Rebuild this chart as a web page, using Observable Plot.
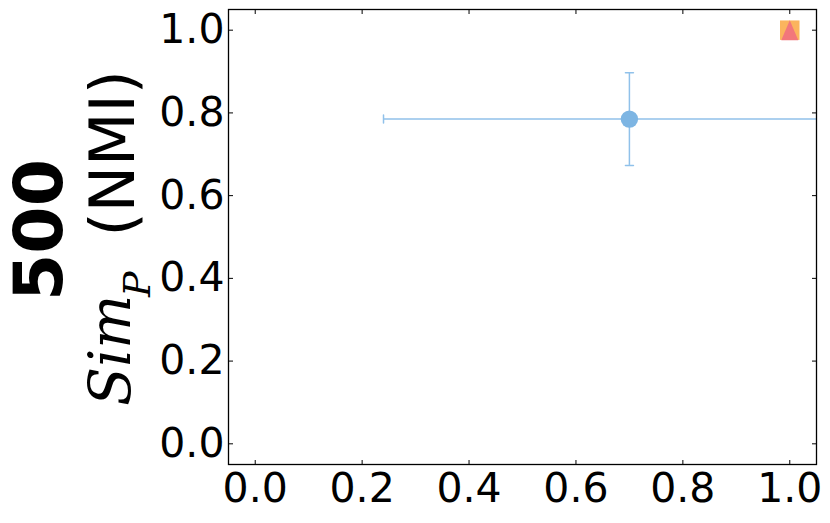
<!DOCTYPE html>
<html><head><meta charset="utf-8">
<script src="https://cdn.jsdelivr.net/npm/d3@7"></script>
<script src="https://cdn.jsdelivr.net/npm/@observablehq/plot@0.6"></script>
<style>
body{margin:0;background:#fff}
#chart{width:830px;height:523px}
</style>
</head><body><div id="chart"></div>
<script>
// ---- data ----
const series = ["A", "B", "C"];
const xValues = [0.70, 1.0, 1.0];
const yValues = [0.785, 1.0, 1.0];
const xErrors = [0.46, 0, 0];
const yErrors = [0.112, 0, 0];
const xTicks = [0.0, 0.2, 0.4, 0.6, 0.8, 1.0];
const yTicks = [0.0, 0.2, 0.4, 0.6, 0.8, 1.0];
const rowLabel = "500";
const yLabelMain = "Sim";
const yLabelSub = "P";
const yLabelTail = "(NMI)";

// ---- styles ----
const colors = {A: "#7db5e3", B: "#fbb45e", C: "#f2777b"};
const errColor = "#90c1ea";
const triangle = {draw(ctx, size) {
  const h = Math.sqrt(size) / 2;
  ctx.moveTo(0, -h); ctx.lineTo(h * 0.85, h); ctx.lineTo(-h * 0.85, h); ctx.closePath();
}};
const capShape = {draw(ctx, l) { ctx.moveTo(0, 0); ctx.lineTo(0, -l); }};

const data = series.map((s, i) => ({series: s, x: xValues[i], y: yValues[i], xerr: xErrors[i], yerr: yErrors[i]}));
const errData = data.filter(d => d.xerr > 0 || d.yerr > 0);
const fmt = d3.format(".1f");

const plot = Plot.plot({
  width: 830, height: 523,
  marginLeft: 228, marginRight: 14, marginTop: 9, marginBottom: 59,
  style: {fontFamily: "DejaVu Sans", fontSize: "41px", background: "#fff", color: "#000"},
  x: {domain: [-0.05, 1.05]},
  y: {domain: [-0.05, 1.05]},
  marks: [
    Plot.ruleY(errData, {y: "y", x1: d => d.x - d.xerr, x2: d => d.x + d.xerr, stroke: errColor, strokeWidth: 1.5, clip: true}),
    Plot.ruleX(errData, {x: "x", y1: d => d.y - d.yerr, y2: d => d.y + d.yerr, stroke: errColor, strokeWidth: 1.5, clip: true}),
    Plot.vector(errData, {x: d => d.x - d.xerr, y: "y", length: 8, anchor: "middle", rotate: 0, shape: capShape, stroke: errColor, strokeWidth: 1.5, clip: true}),
    Plot.vector(errData, {x: d => d.x + d.xerr, y: "y", length: 8, anchor: "middle", rotate: 0, shape: capShape, stroke: errColor, strokeWidth: 1.5, clip: true}),
    Plot.vector(errData, {x: "x", y: d => d.y - d.yerr, length: 8, anchor: "middle", rotate: 90, shape: capShape, stroke: errColor, strokeWidth: 1.5, clip: true}),
    Plot.vector(errData, {x: "x", y: d => d.y + d.yerr, length: 8, anchor: "middle", rotate: 90, shape: capShape, stroke: errColor, strokeWidth: 1.5, clip: true}),
    Plot.dot(data.filter(d => d.series === "A"), {x: "x", y: "y", r: 8.7, fill: colors.A, symbol: "circle"}),
    Plot.dot(data.filter(d => d.series === "B"), {x: "x", y: "y", r: 11, fill: colors.B, symbol: "square"}),
    Plot.dot(data.filter(d => d.series === "C"), {x: "x", y: "y", r: 11.3, fill: colors.C, symbol: triangle}),
    Plot.axisX(xTicks, {anchor: "bottom", tickSize: 0, tickPadding: 8, tickFormat: fmt, label: null, fontSize: 41}),
    Plot.axisX(xTicks, {anchor: "bottom", tickSize: -4, fill: "none", label: null}),
    Plot.axisX(xTicks, {anchor: "top", tickSize: -4, fill: "none", label: null}),
    Plot.axisY(yTicks, {anchor: "left", tickSize: 0, tickPadding: 4, tickFormat: fmt, label: null, fontSize: 41}),
    Plot.axisY(yTicks, {anchor: "left", tickSize: -5, fill: "none", label: null}),
    Plot.axisY(yTicks, {anchor: "right", tickSize: -5, fill: "none", label: null}),
    Plot.frame({stroke: "#000", strokeWidth: 1.3})
  ]
});

const svg = d3.select(plot);
function addText(tx, ty, anchor, family, size, weight, fstyle, str) {
  svg.append("text")
    .attr("transform", `translate(${tx},${ty}) rotate(-90)`)
    .attr("text-anchor", anchor)
    .attr("font-family", family)
    .attr("font-size", size)
    .attr("font-weight", weight)
    .attr("font-style", fstyle)
    .attr("fill", "#000")
    .text(str);
}
addText(62, 230, "middle", "'DejaVu Sans', sans-serif", 68, "bold", "normal", rowLabel);
addText(130, 406, "start", "'DejaVu Serif', serif", 57, "normal", "italic", yLabelMain);
addText(150, 297, "start", "'DejaVu Serif', serif", 38, "normal", "italic", yLabelSub);
addText(134, 70, "end", "'DejaVu Sans', sans-serif", 62, "normal", "normal", yLabelTail);

document.getElementById("chart").appendChild(plot);
</script>
</body></html>
